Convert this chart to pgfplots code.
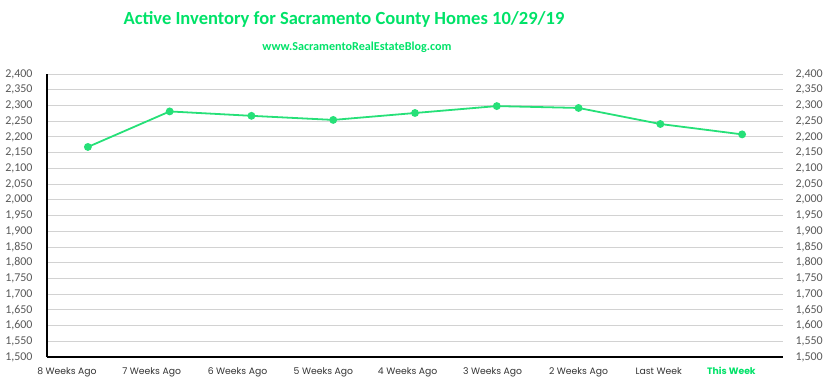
\documentclass[border=0pt]{standalone}
\usepackage{pgfplots}
\pgfplotsset{compat=1.18}
\usepackage{fontspec}
\setmainfont{Carlito}
\newfontfamily\pop{Poppins}
\definecolor{tgreen}{RGB}{0,226,104}
\definecolor{lgreen}{RGB}{38,224,120}
\definecolor{tickgray}{RGB}{89,89,89}
\definecolor{gridgray}{RGB}{210,210,210}
\begin{document}
\begin{tikzpicture}
\pgfplotsset{
  common/.style={
    scale only axis, width=736bp, height=283bp,
    xmin=-0.5, xmax=8.5, ymin=1500, ymax=2400,
    ytick={1500,1550,...,2400},
    /pgf/number format/assume math mode=true,
    /pgf/number format/.cd, 1000 sep={,}, fixed, precision=0, /pgfplots/.cd,
    yticklabel style={font=\fontsize{12}{12}\selectfont, text=tickgray},
    major tick length=0pt,
  }
}
\begin{axis}[common, name=ax,
  axis y line*=left, axis x line*=bottom,
  axis line style={black, line width=1.2pt, -},
  ymajorgrids, grid style={gridgray, line width=0.8pt},
  xtick={-0.256,0.78,1.83,2.88,3.91,4.95,6.0,6.98,7.87},
  xticklabels={8 Weeks Ago,7 Weeks Ago,6 Weeks Ago,5 Weeks Ago,4 Weeks Ago,3 Weeks Ago,2 Weeks Ago,Last Week,{\color{tgreen}\bfseries This Week}},
  xticklabel style={font=\pop\fontsize{9.3}{9.3}\selectfont, text=black!80, yshift=-7bp},
  yticklabel style={xshift=-11bp},
]
\addplot[lgreen, line width=1.8pt, mark=*, mark size=3pt] coordinates {
(0,2168) (1,2281) (2,2267) (3,2254) (4,2276) (5,2298) (6,2292) (7,2241) (8,2208)
};
\end{axis}
\begin{axis}[common,
  axis y line*=right, axis x line=none,
  axis line style={draw=none},
  yticklabel style={xshift=9bp},
]
\end{axis}
\node[font=\bfseries\fontsize{18.6}{18.6}\selectfont, text=tgreen] at ([xshift=-71bp,yshift=55bp]ax.north) {Active Inventory for Sacramento County Homes 10/29/19};
\node[font=\fontsize{12.2}{12.2}\selectfont\bfseries, text=tgreen] at ([xshift=-58bp,yshift=27bp]ax.north) {www.SacramentoRealEstateBlog.com};
\pgfresetboundingbox
\path (-47bp,-31bp) rectangle (782bp,357bp);
\end{tikzpicture}
\end{document}
